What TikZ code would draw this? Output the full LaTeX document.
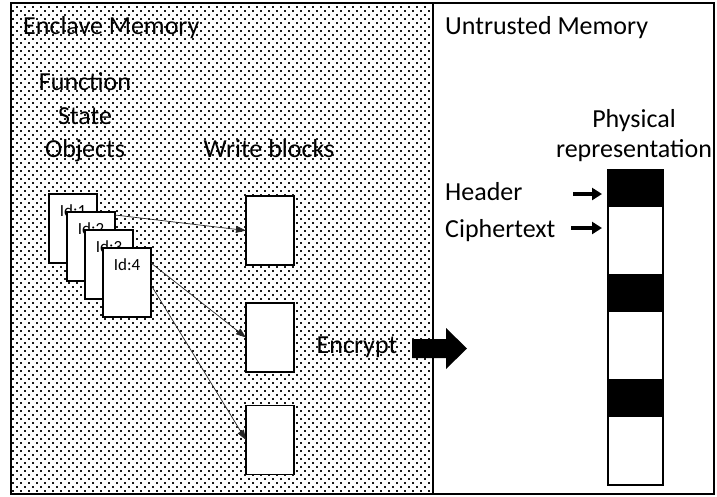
\documentclass[tikz,border=0pt]{standalone}
\usepackage{fontspec}
\setmainfont{Carlito}
\usetikzlibrary{arrows.meta,patterns.meta,calc}
\tikzdeclarepattern{
  name=enclavedots,
  type=uncolored,
  bottom left={(-0.5pt,-0.5pt)},
  top right={(7.5pt,7.5pt)},
  tile size={(8pt,8pt)},
  code={
    \fill (0pt,0pt) rectangle (1.7pt,1.7pt);
    \fill (4pt,4pt) rectangle (5.7pt,5.7pt);
  }
}
\tikzset{
  big/.style={font=\fontsize{26}{30}\selectfont},
  small/.style={font=\fontsize{17}{19}\selectfont},
  objbox/.style={draw=black, line width=1.3pt, fill=white, minimum width=48pt, minimum height=69pt, inner sep=0pt, outer sep=0pt},
  blockbox/.style={draw=black, line width=1.3pt, fill=white, minimum width=48pt, minimum height=69pt, inner sep=0pt, outer sep=0pt},
  thinarrow/.style={draw=black!85, line width=0.7pt, -{Triangle[length=10pt,width=7pt]}},
  boldarrow/.style={draw=black, line width=4pt, -{Triangle[length=10pt,width=12pt]}},
}
\begin{document}
\begin{tikzpicture}[x=1pt,y=-1pt]
\useasboundingbox (0,0) rectangle (717,496);
% enclave region
\fill[pattern=enclavedots, pattern color=black!90] (11,3) rectangle (433,494);
\draw[line width=1.5pt] (11,3) rectangle (714,494);
\draw[line width=1.5pt] (433,3) -- (433,494);

% titles
\node[big, anchor=base west, inner sep=0pt] (encl) at (23,34) {Enclave Memory};
\node[big, anchor=base west, inner sep=0pt] (untr) at (445,34) {Untrusted Memory};

\node[big, anchor=base, inner sep=0pt] (fn1) at (85,90) {Function};
\node[big, anchor=base, inner sep=0pt] (fn2) at (85,124) {State};
\node[big, anchor=base, inner sep=0pt] (fn3) at (85,157) {Objects};
\node[big, anchor=base, inner sep=0pt] (wbl) at (269,157) {Write blocks};

% objects
\node[objbox] (id1) at (73,228.5) {};
\node[small, anchor=base, inner sep=0pt] at ($(id1.north)+(0,22)$) {Id:1};
\node[objbox] (id2) at (91,246.5) {};
\node[small, anchor=base, inner sep=0pt] at ($(id2.north)+(0,22)$) {Id:2};
\node[objbox] (id3) at (109,264.5) {};
\node[small, anchor=base, inner sep=0pt] at ($(id3.north)+(0,22)$) {Id:3};
\node[objbox] (id4) at (127,282.5) {};
\node[small, anchor=base, inner sep=0pt] at ($(id4.north)+(0,22)$) {Id:4};

% write blocks
\node[blockbox] (wb1) at (270,230.5) {};
\node[blockbox] (wb2) at (270,337.5) {};
\node[blockbox] (wb3) at (270,440) {};

\draw[thinarrow] ($(id2.north east)+(0,3)$) -- (wb1.west);
\draw[thinarrow] ($(id4.north east)+(0,15)$) -- (wb2.west);
\draw[thinarrow] ($(id4.north east)+(0,37)$) -- (wb3.west);

% encrypt
\node[big, anchor=base, inner sep=0pt] (enc) at (357,353) {Encrypt};
\coordinate (ea) at (412,348.5);
\fill[black] ($(ea)+(0,-9.5)$) -- ($(ea)+(34,-9.5)$) -- ($(ea)+(34,-20.5)$) -- ($(ea)+(55,0)$)
  -- ($(ea)+(34,20.5)$) -- ($(ea)+(34,9.5)$) -- ($(ea)+(0,9.5)$) -- cycle;

% physical representation
\node[big, anchor=base, inner sep=0pt] (ph1) at (634,127) {Physical};
\node[big, anchor=base, inner sep=0pt] (ph2) at (634,157) {representation};

\fill[black] (608,170) rectangle (663,207);
\fill[black] (608,274) rectangle (663,312);
\fill[black] (608,379) rectangle (663,417);
\draw[line width=1.3pt] (608,170) rectangle (663,485);
\coordinate (hdrpt) at (602,194);
\coordinate (cippt) at (602,228);

\node[big, anchor=base west, inner sep=0pt] (hdr) at (445,200) {Header};
\node[big, anchor=base west, inner sep=0pt] (cip) at (445,237) {Ciphertext};
\draw[boldarrow] (573,194) -- (hdrpt);
\draw[boldarrow] (571,228) -- (cippt);
\end{tikzpicture}
\end{document}
